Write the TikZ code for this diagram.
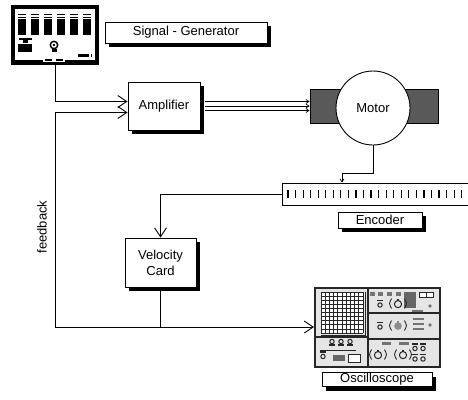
\documentclass[tikz,border=0pt]{standalone}
\usepackage{fontspec}
\setmainfont{Liberation Sans}
\usetikzlibrary{arrows.meta,calc,shadows}
\colorlet{dk}{black!85}
\colorlet{panel}{black!10}
\colorlet{knobgray}{black!45}
\begin{document}
\begin{tikzpicture}[x=1pt,y=-1pt,line width=0.9pt,
  font=\fontsize{13}{16}\selectfont,
  labelbox/.style={draw=black,fill=white,inner sep=0pt,line width=0.8pt,
    drop shadow={shadow xshift=4pt,shadow yshift=-4pt,fill=black,opacity=1}},
  openarrow/.style={-{Straight Barb[length=9pt,width=12pt,line width=0.9pt]}},
  smallarrow/.style={-{Straight Barb[length=3pt,width=4pt,line width=0.7pt]}},
  smallknob/.pic={\fill[dk] (-2.6,-5.2) rectangle (2.6,-3.8);
    \draw[dk,line width=1pt] (0,0) circle (2.2);},
  omegaknob/.pic={\draw[dk,line width=1pt] (0,0) circle (2.2);
    \fill[dk] (-3,2.8) rectangle (3,4.2);},
  bigknob/.pic={\draw[dk,line width=1pt] (0,0.6) circle (3.6);
    \fill[dk] (-1,-4.8) rectangle (1,-2.8);
    \draw[dk,line width=0.9pt] (-6.5,-5) .. controls (-9,0) .. (-6.5,5);
    \draw[dk,line width=0.9pt] (6.5,-5) .. controls (9,0) .. (6.5,5);},
  graybigknob/.pic={\fill[knobgray] (0,0.6) circle (3.8);
    \fill[knobgray] (-1,-4.8) rectangle (1,-2.8);
    \draw[dk,line width=0.9pt] (-6.5,-5) .. controls (-9,0) .. (-6.5,5);
    \draw[dk,line width=0.9pt] (6.5,-5) .. controls (9,0) .. (6.5,5);}]
\clip (0,0) rectangle (468,399);

% ---------- signal generator front panel ----------
\fill[black] (11,5) rectangle (99,65);
\fill[white] (15,9) rectangle (95,60);
\fill[white] (43,58) rectangle (65,62);
\fill (45,59) rectangle (52,61);
\fill (56,59) rectangle (63,61);
\foreach \cx in {21.5,34.5,47.5,60.5,73.5,86.5} {
  \fill (\cx-4,13.5) rectangle (\cx+4,15);
  \fill (\cx-4,16.5) rectangle (\cx+4,17.5);
  \fill (\cx-4,19) rectangle (\cx+4,35);
}
\fill (19,38) rectangle (32,40);
\fill (23,40) rectangle (28,43);
\fill (18,44) rectangle (32,52);
\fill (54,45) circle (4.5);
\fill[white] (54,45) circle (2.8);
\fill (54,45) circle (1.4);
\fill (51.5,49) rectangle (56.5,52);
\fill (78,54) rectangle (89,57);
\fill (91,54) rectangle (92,57);
\coordinate (genout) at (55,62);

% ---------- labelled boxes ----------
\node[labelbox,minimum width=162pt,minimum height=21pt] (siglabel) at (186,32.5) {Signal - Generator\hspace{10pt}};
\node[labelbox,minimum width=72pt,minimum height=48pt] (amp) at (164,106) {Amplifier};
\node[labelbox,minimum width=71pt,minimum height=49pt,align=center] (vel) at (160.5,262.5) {Velocity\\Card};
\node[labelbox,minimum width=84pt,minimum height=16pt] (enclabel) at (380,220) {Encoder};
\node[labelbox,minimum width=110pt,minimum height=14pt] (scopelabel) at (377,379.5) {Oscilloscope};

% ---------- motor ----------
\node[draw,fill=black!65,minimum width=128pt,minimum height=34pt,inner sep=0pt] (motorbody) at (374,106) {};
\node[draw,fill=white,circle,minimum size=74pt,inner sep=0pt] (motor) at (373,108) {Motor};

% ---------- encoder strip ----------
\node[draw,fill=white,minimum width=200pt,minimum height=22pt,inner sep=0pt,anchor=west] (enc) at (282,194) {};
\foreach \i in {0,...,23}
  \draw[line width=1.2pt] ($(enc.west)+(6+7.55*\i,-4)$) -- ++(0,8);
\coordinate (encin) at ($(enc.north west)+(60,0)$);

% ---------- oscilloscope ----------
\node[draw=dk,line width=2pt,fill=panel,minimum width=125pt,minimum height=79pt,inner sep=0pt] (scope) at (377.5,327.5) {};
\draw[dk,line width=1.2pt] (368,289) -- (368,366);
\draw[dk,line width=1.2pt] (368,313) -- (439,313);
\draw[dk,line width=1.2pt] (368,339) -- (439,339);
\draw[dk,line width=1.2pt] (316,337) -- (368,337);
% screen graticule
\fill[white] (321,292) rectangle (363,333);
\foreach \k in {0,...,10} {
  \draw[dk,line width=0.7pt] (321+4.2*\k,292) -- (321+4.2*\k,333);
  \draw[dk,line width=0.7pt] (321,292+4.1*\k) -- (363,292+4.1*\k);
}
\draw[dk,line width=0.6pt] (321,335) -- (365,335) -- (365,292);
% lower left controls
\foreach \x in {332,341,350} \pic at (\x,341.5) {omegaknob};
\draw[dk,line width=0.8pt] (320,350) -- (356,350);
\pic at (323,356.5) {smallknob};
\fill[black!60] (333,355) rectangle (345,361);
\draw[dk,line width=0.8pt,fill=white] (348,354) rectangle (360,362);
% upper right controls
\foreach \x in {370,378,387,396} \fill[black!55] (\x,292) rectangle (\x+5,296);
\fill[black!60] (404,292) rectangle (416,308);
\draw[dk,line width=0.8pt,fill=white] (419,292) rectangle (426,297);
\draw[dk,line width=0.8pt,fill=white] (426,292) rectangle (433,297);
\fill[black!55] (430,306) circle (1.8);
\fill[black!55] (412,310) rectangle (423,312);
\pic at (380,305) {smallknob};
\pic at (398,303.5) {bigknob};
% middle right controls
\pic at (380,327) {smallknob};
\pic at (398,325.5) {graybigknob};
\foreach \y in {317.5,322.5,327.5} \fill[black!55] (413,\y) rectangle (424,\y+2.5);
\fill[black!55] (430,325) circle (1.8);
% lower right controls
\fill[black!55] (382,342) rectangle (391,344.5);
\fill[black!55] (399,342) rectangle (409,344.5);
\pic at (378,354.5) {bigknob};
\pic at (403,354.5) {bigknob};
\foreach \x in {415,423} {
  \pic at (\x,348.5) {smallknob};
  \pic at (\x,359) {smallknob};
}

% ---------- connectors ----------
\coordinate (fbcorner) at (55,327);
\draw[openarrow] (genout) |- ($(amp.west)+(0,-4.5)$);
\draw[openarrow] (fbcorner) |- ($(amp.west)+(0,6.5)$);
\draw[openarrow] (fbcorner) -- (fbcorner -| scope.west);
\draw (vel.south) -- (vel.south |- fbcorner);
\foreach \d in {-4.5,0,4.5}
  \draw[smallarrow,line width=0.8pt] ($(amp.east)+(5,\d)$) -- ($(motorbody.west)+(0,\d)$);
\draw[smallarrow] (motor.south) -- ++(0,28) -| (encin);
\draw[openarrow] (enc.west) -| (vel.north);

\node[rotate=90] (fblabel) at (42,227) {feedback};
\end{tikzpicture}
\end{document}
